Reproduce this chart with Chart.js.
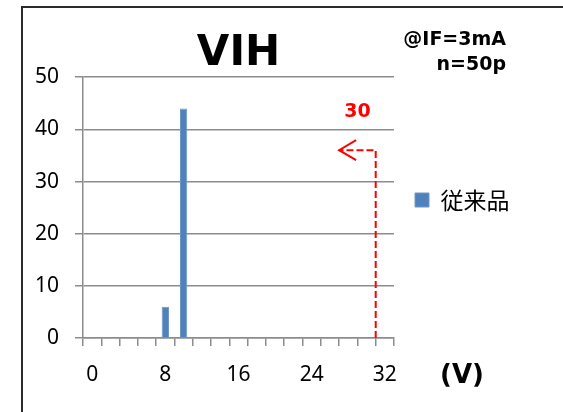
<!DOCTYPE html>
<html>
<head>
<meta charset="utf-8">
<script src="https://cdn.jsdelivr.net/npm/chart.js@4"></script>
<style>
    html, body { margin: 0; padding: 0; background: #fff; overflow: hidden; }
    #canvas { display: block; }
</style>
</head>
<body>
<canvas id="canvas" width="563" height="412"></canvas>
<script>
// 電圧ビン (V) と度数
const voltages = [0, 2, 4, 6, 8, 10, 12, 14, 16, 18, 20, 22, 24, 26, 28, 30, 32];
const counts   = [0, 0, 0, 0, 6, 44, 0, 0, 0, 0, 0, 0, 0, 0, 0, 0, 0];
const shownTicks = ['0', '8', '16', '24', '32'];
const seriesName = '従来品';

// 規格値の矢印
const limitV = 30;
const arrowToV = 28;
const arrowLevel = 36;

const gridGray = '#8c8c8c';

const overlay = {
    id: 'overlay',
    beforeDraw(chart) {
        // 外枠 (左と上だけ見える)
        const ctx = chart.ctx;
        ctx.save();
        ctx.strokeStyle = '#2a2a2a';
        ctx.lineWidth = 2;
        ctx.beginPath();
        ctx.moveTo(22, chart.height);
        ctx.lineTo(22, 7);
        ctx.lineTo(chart.width, 7);
        ctx.stroke();
        ctx.restore();
    },
    afterDraw(chart) {
        const ctx = chart.ctx;
        const xs = chart.scales.x;
        const ys = chart.scales.y;
        const binW = xs.getPixelForValue(1) - xs.getPixelForValue(0);

        ctx.save();
        // 条件
        ctx.fillStyle = '#000';
        ctx.font = 'bold 19px "DejaVu Sans"';
        ctx.textAlign = 'right';
        ctx.textBaseline = 'middle';
        ctx.fillText('@IF=3mA', 506, 40);
        ctx.fillText('n=50p', 506, 65);

        // 単位
        ctx.font = 'bold 26px "DejaVu Sans"';
        ctx.textAlign = 'center';
        ctx.fillText('(V)', 462, 376);

        // 規格線
        const xLine = xs.getPixelForValue(voltages.indexOf(limitV)) + binW / 2;
        const xTip = xs.getPixelForValue(voltages.indexOf(arrowToV)) - binW / 2;
        const yLevel = ys.getPixelForValue(arrowLevel);
        ctx.strokeStyle = '#ff0000';
        ctx.lineWidth = 2;
        ctx.setLineDash([7, 3]);
        ctx.beginPath();
        ctx.moveTo(xLine, ys.getPixelForValue(0));
        ctx.lineTo(xLine, yLevel);
        ctx.lineTo(xTip, yLevel);
        ctx.stroke();
        ctx.setLineDash([]);
        ctx.beginPath();
        ctx.moveTo(xTip + 17, yLevel - 10);
        ctx.lineTo(xTip, yLevel);
        ctx.lineTo(xTip + 17, yLevel + 10);
        ctx.stroke();

        ctx.fillStyle = '#ff0000';
        ctx.font = 'bold 19px "DejaVu Sans"';
        ctx.fillText(String(limitV), (xLine + xTip) / 2, yLevel - 38);
        ctx.restore();
    }
};

const ctx = document.getElementById('canvas').getContext('2d');
new Chart(ctx, {
    type: 'bar',
    data: {
        labels: voltages.map(String),
        datasets: [{
            label: seriesName,
            data: counts,
            backgroundColor: '#4f81bd',
            borderColor: '#6f97c9',
            borderWidth: 1,
            categoryPercentage: 1,
            barPercentage: 0.4
        }]
    },
    options: {
        responsive: false,
        animation: false,
        layout: { padding: { left: 19, right: 44, top: 18, bottom: 30 } },
        plugins: {
            title: {
                display: true,
                text: 'VIH',
                fullSize: false,
                color: '#000',
                font: { family: 'DejaVu Sans', size: 42, weight: 'bold', lineHeight: 1.1 },
                padding: { top: 13, bottom: 0 }
            },
            legend: {
                position: 'right',
                labels: {
                    boxWidth: 14,
                    boxHeight: 14,
                    padding: 21,
                    color: '#000',
                    font: { family: 'Noto Sans CJK JP', size: 23 }
                }
            },
            tooltip: { enabled: false }
        },
        scales: {
            x: {
                afterFit: function (scale) { scale.height = 44; },
                grid: {
                    offset: true,
                    drawOnChartArea: false,
                    tickLength: 8,
                    color: gridGray,
                    lineWidth: 1.5
                },
                border: { color: gridGray, width: 1.5 },
                ticks: {
                    autoSkip: false,
                    maxRotation: 0,
                    padding: 16,
                    color: '#000',
                    font: { family: 'Noto Sans', size: 21 },
                    callback: function (v, i) {
                        const lab = this.getLabelForValue(v);
                        return shownTicks.includes(lab) ? lab : '';
                    }
                }
            },
            y: {
                min: 0,
                max: 50,
                grid: { tickLength: 8, color: gridGray, lineWidth: 1.5 },
                border: { color: gridGray, width: 1.5 },
                ticks: {
                    stepSize: 10,
                    padding: 16,
                    color: '#000',
                    font: { family: 'Noto Sans', size: 21 }
                }
            }
        }
    },
    plugins: [overlay]
});
</script>
</body>
</html>
